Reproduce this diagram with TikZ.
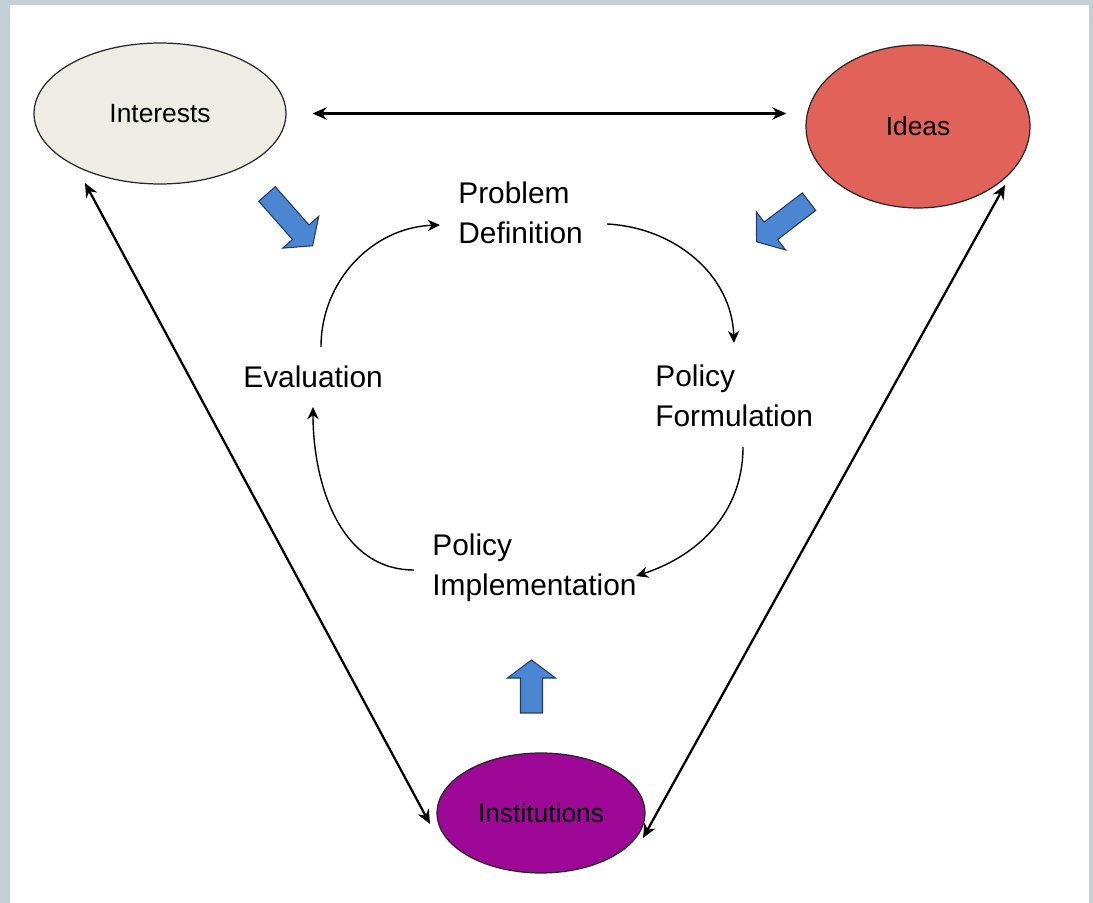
\documentclass[tikz,border=0pt]{standalone}
\usepackage{fontspec}
\setmainfont{Liberation Sans}
\usetikzlibrary{shapes.geometric,arrows.meta,calc}

\definecolor{framegray}{RGB}{196,207,216}
\definecolor{interestgray}{RGB}{237,237,229}
\definecolor{ideared}{RGB}{224,98,88}
\definecolor{instpurple}{RGB}{158,8,150}
\definecolor{pushblue}{RGB}{74,134,210}
\definecolor{pushedge}{RGB}{36,56,96}

\begin{document}
\begin{tikzpicture}[x=0.02cm, y=0.02cm,
    actor/.style ={ellipse, draw=black!85, line width=0.7pt, inner sep=0pt,
                   font=\fontsize{15}{18}\selectfont},
    stage/.style ={align=left, anchor=west, inner sep=0pt,
                   font=\fontsize{17}{22.8}\selectfont},
    link/.style  ={line width=1.3pt, {Stealth[length=8pt,width=7pt]}-{Stealth[length=8pt,width=7pt]}},
    stepflow/.style ={line width=0.8pt, -{Stealth[length=7pt,width=6.5pt]}},
    pics/push/.style={code={
      \filldraw[fill=pushblue, draw=pushedge, line width=0.6pt]
        (0,-11) -- (#1-18,-11) -- (#1-18,-24) -- (#1,0) -- (#1-18,24) -- (#1-18,11) -- (0,11) -- cycle;}}]
   % frame
   \fill[framegray] (0,0) rectangle (1093,903);
   \fill[white] (10,0) rectangle (1089,898);
   \useasboundingbox (0,0) rectangle (1093,903);

   \node[actor, fill=interestgray, minimum width=5.04cm, minimum height=2.82cm] (interests) at (160,789.5) {Interests};
   \node[actor, fill=ideared, minimum width=4.48cm, minimum height=3.26cm] (ideas) at (918,776.5) {Ideas};
   \node[actor, fill=instpurple, minimum width=4.16cm, minimum height=2.4cm] (institutions) at (541,90) {Institutions};

   \node[stage] (problem) at (458,690) {Problem\\Definition};
   \node[stage] (formulation) at (655,507) {Policy\\Formulation};
   \node[stage] (implementation) at (432,335.5) {Policy\\Implementation};
   \node[stage] (evaluation) at (243,526) {Evaluation};

   % the policy cycle
   \draw[stepflow] ($(evaluation.west)+(78,30)$) to[out=90, in=182] ($(problem.west)+(-18,-12)$);
   \draw[stepflow] ($(problem.west)+(149,-11)$) to[out=-3, in=92] ($(formulation.west)+(79,53)$);
   \draw[stepflow] ($(formulation.west)+(88,-51)$) to[out=-90, in=18] ($(implementation.west)+(204,-8.5)$);
   \draw[stepflow] ($(implementation.west)+(-18,-2.5)$) to[out=180, in=-90] ($(evaluation.west)+(70,-30)$);

   % links between the three actors
   \draw[link, shorten <=0.52cm, shorten >=0.38cm] (interests.east) -- (interests.east -| ideas.west);
   \draw[link] ($(interests)+(-75,-69.5)$) -- ($(institutions)+(-111,-11)$);
   \draw[link] ($(ideas)+(87,-58.5)$) -- ($(institutions)+(102,-25)$);

   % influence on the cycle
   \pic[rotate=-48.6] at (267,709) {push=69};
   \pic[rotate=217.4] at (809,701.3) {push=66};
   \pic[rotate=90] at (531.5,190) {push=53};
\end{tikzpicture}
\end{document}
